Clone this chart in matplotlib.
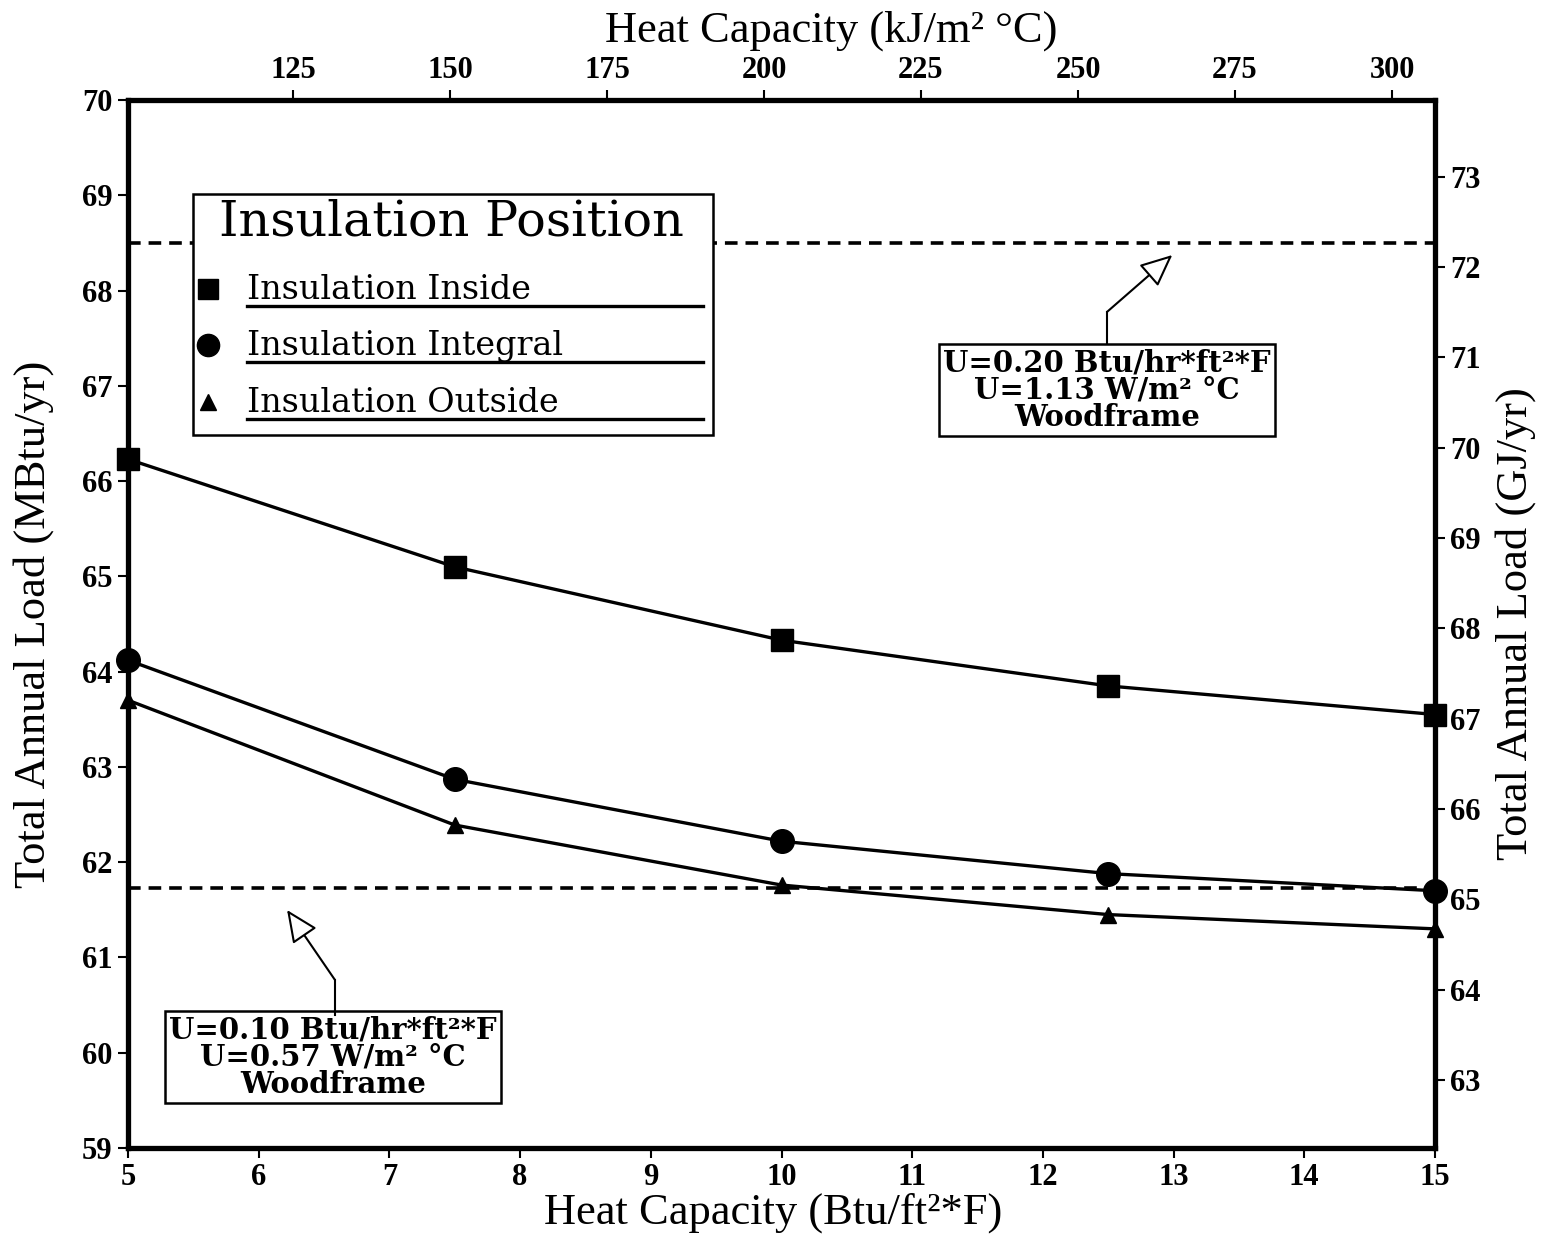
import matplotlib
matplotlib.use("Agg")
import matplotlib.pyplot as plt
import numpy as np

# ---- data ----
heat_capacity = [5, 7.5, 10, 12.5, 15]
load_inside = [66.23, 65.10, 64.33, 63.85, 63.55]
load_integral = [64.12, 62.87, 62.22, 61.88, 61.70]
load_outside = [63.70, 62.39, 61.76, 61.45, 61.30]
ref_020 = 68.50
ref_010 = 61.73
series_labels = ["Insulation Inside", "Insulation Integral", "Insulation Outside"]
x_ticks = list(range(5, 16))
y_ticks = list(range(59, 71))
top_ticks = [125, 150, 175, 200, 225, 250, 275, 300]
right_ticks = list(range(63, 74))

SERIF = ["Liberation Serif", "DejaVu Serif"]
WIDE = ["DejaVu Serif"]
TICKFS = 22
LABFS = 32

fig = plt.figure(figsize=(15.41, 12.44), dpi=100)
ax = fig.add_axes([128/1541, 1-1148/1244, 1307/1541, 1048/1244])

ax.plot(heat_capacity, load_inside, color="black", lw=2.4, marker="s", ms=16, zorder=4, clip_on=False)
ax.plot(heat_capacity, load_integral, color="black", lw=2.4, marker="o", ms=17, zorder=4, clip_on=False)
ax.plot(heat_capacity, load_outside, color="black", lw=2.4, marker="^", ms=12, zorder=4, clip_on=False)
ax.axhline(ref_020, color="black", lw=2.6, ls=(0, (3.5, 2.2)), zorder=3)
ax.axhline(ref_010, color="black", lw=2.6, ls=(0, (3.5, 2.2)), zorder=3)

ax.set_xlim(5, 15)
ax.set_ylim(59, 70)
ax.set_xticks(x_ticks)
ax.set_yticks(y_ticks)
for s in ax.spines.values():
    s.set_linewidth(3.8)
ax.tick_params(axis="both", direction="out", length=7, width=1.5, pad=4)
for lab in ax.get_xticklabels() + ax.get_yticklabels():
    lab.set_family(SERIF)
    lab.set_fontsize(TICKFS)
    lab.set_fontweight("bold")

ax.set_xlabel("Heat Capacity (Btu/ft\u00b2*F)", family=SERIF, fontsize=LABFS, labelpad=0)
ax.xaxis.label.set_x(0.494)
ax.set_ylabel("Total Annual Load (MBtu/yr)", family=SERIF, fontsize=LABFS, labelpad=20)

# top axis: kJ/m2C
k0, kslope = 98.74, 20.81
top = ax.secondary_xaxis("top", functions=(lambda x: k0 + (x - 5) * kslope,
                                           lambda k: 5 + (k - k0) / kslope))
top.set_xticks(top_ticks)
top.tick_params(direction="out", length=7, width=1.5, pad=4)
for lab in top.get_xticklabels():
    lab.set_family(SERIF); lab.set_fontsize(TICKFS); lab.set_fontweight("bold")
top.set_xlabel("Heat Capacity (kJ/m\u00b2 \u00b0C)", family=SERIF, fontsize=LABFS, labelpad=10)
top.xaxis.label.set_x(0.538)

# right axis: GJ/yr
conv = 1.055
right = ax.secondary_yaxis("right", functions=(lambda y: y * conv, lambda g: g / conv))
right.set_yticks(right_ticks)
right.tick_params(direction="out", length=7, width=1.5, pad=4)
for lab in right.get_yticklabels():
    lab.set_family(SERIF); lab.set_fontsize(TICKFS); lab.set_fontweight("bold")
right.set_ylabel("Total Annual Load (GJ/yr)", family=SERIF, fontsize=LABFS, labelpad=10)

# ---- custom legend ----
def axc(px, py):
    return ((px - 128) / 1307, (1148 - py) / 1048)

x0, y0 = axc(193, 435)
x1, y1 = axc(713, 194)
ax.add_patch(plt.Rectangle((x0, y0), x1 - x0, y1 - y0, transform=ax.transAxes,
                           fill=True, fc="white", ec="black", lw=1.8, zorder=5))
tx, ty = axc(451, 222)
ax.text(tx, ty, "Insulation Position", transform=ax.transAxes, ha="center", va="center",
        family=WIDE, fontsize=35.5, zorder=6)
markers = ["s", "o", "^"]
msizes = [15, 16, 12]
rows_y = [289, 345, 402]
for lbl, m, msz, ry in zip(series_labels, markers, msizes, rows_y):
    mx, my = axc(208, ry)
    ax.plot([mx], [my], marker=m, ms=msz, color="black", transform=ax.transAxes, zorder=6, clip_on=False)
    lx, ly = axc(247, ry + 10)
    ax.text(lx, ly, lbl, transform=ax.transAxes, ha="left", va="baseline",
            family=WIDE, fontsize=24, zorder=6)
    ux0, uy = axc(247, ry + 17)
    ux1, _ = axc(703, ry + 17)
    ax.plot([ux0, ux1], [uy, uy], color="black", lw=2.4, transform=ax.transAxes, zorder=6)

# ---- annotation boxes ----
box_kw = dict(boxstyle="square,pad=0.15", fc="white", ec="black", lw=1.8)
ax.text(12.49, 66.956, "U=0.20 Btu/hr*ft\u00b2*F\nU=1.13 W/m\u00b2 \u00b0C\nWoodframe",
        ha="center", va="center", family=WIDE, fontsize=21, fontweight="bold",
        linespacing=0.92, bbox=box_kw, zorder=6)
ax.plot([12.49, 12.49], [67.45, 67.775], color="black", lw=1.5, zorder=6)
ax.annotate("", xy=(12.99, 68.373), xytext=(12.49, 67.775),
            arrowprops=dict(arrowstyle="-|>,head_length=1.0,head_width=0.45", fc="white",
                            ec="black", lw=1.5, shrinkA=0, shrinkB=0, mutation_scale=20), zorder=6)

ax.text(6.568, 59.955, "U=0.10 Btu/hr*ft\u00b2*F\nU=0.57 W/m\u00b2 \u00b0C\nWoodframe",
        ha="center", va="center", family=WIDE, fontsize=21, fontweight="bold",
        linespacing=0.92, bbox=box_kw, zorder=6)
ax.plot([6.584, 6.584], [60.40, 60.763], color="black", lw=1.5, zorder=6)
ax.annotate("", xy=(6.217, 61.498), xytext=(6.584, 60.763),
            arrowprops=dict(arrowstyle="-|>,head_length=1.0,head_width=0.45", fc="white",
                            ec="black", lw=1.5, shrinkA=0, shrinkB=0, mutation_scale=20), zorder=6)

fig.savefig("out.png", dpi=100)
